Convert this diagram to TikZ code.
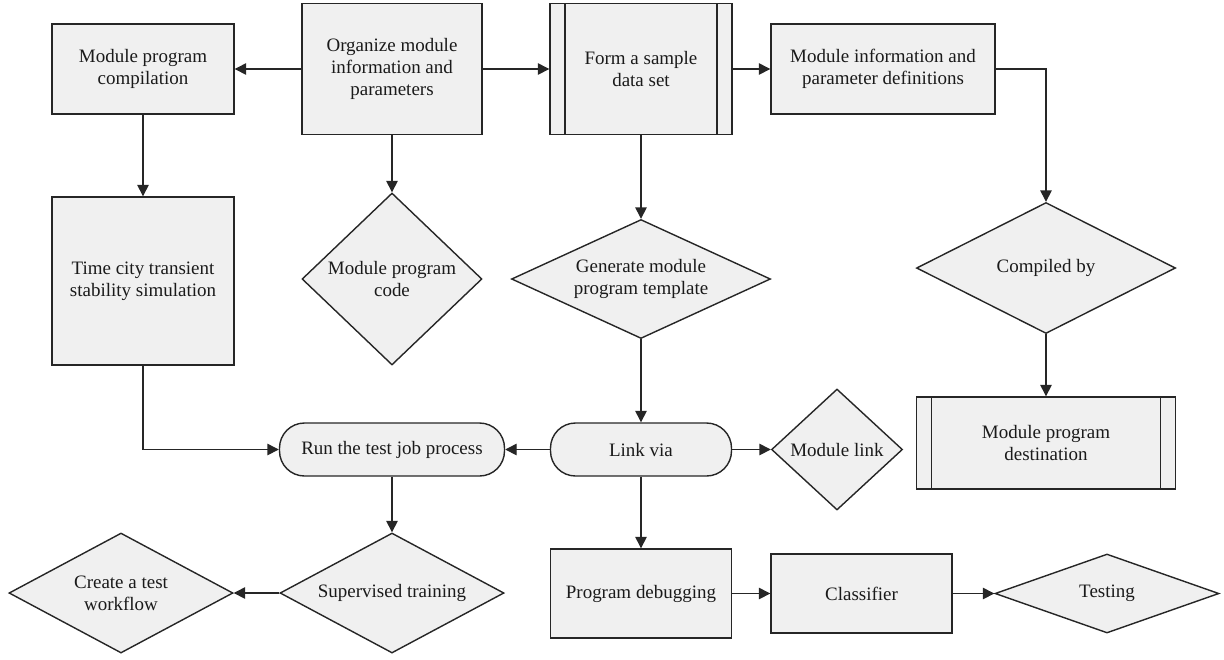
\documentclass[tikz,border=0pt]{standalone}
\usepackage{fontspec}
\setmainfont{Liberation Serif}
\usetikzlibrary{arrows.meta,positioning,shapes.geometric}
\definecolor{cLine}{HTML}{262626}
\definecolor{cText}{HTML}{1A1A1A}
\definecolor{cFill}{HTML}{F0F0F0}
\tikzset{
  base/.style={draw=cLine,fill=cFill,line width=0.8pt,inner sep=0pt,
               align=center,text=cText,font=\fontsize{10.8}{12.6}\selectfont},
  box/.style={base,rectangle},
  subproc/.style={box,path picture={
      \draw[cLine,line width=0.8pt]
        ([xshift=3mm]path picture bounding box.north west) --
        ([xshift=3mm]path picture bounding box.south west)
        ([xshift=-3mm]path picture bounding box.north east) --
        ([xshift=-3mm]path picture bounding box.south east);}},
  term/.style={base,rectangle,rounded corners=5mm,minimum height=1.06cm},
  dec/.style={base,diamond},
  flow/.style={-{Triangle[length=2.3mm,width=2.3mm]},line width=0.8pt,cLine},
}

\begin{document}
\begin{tikzpicture}
  \useasboundingbox (0,0) rectangle (24.48,-13.18);
  \node[box,minimum width=3.64cm,minimum height=1.8cm] (mpc) at (2.86,-1.38)
    {Module program\\compilation};
  \node[box,minimum width=3.6cm,minimum height=2.62cm] (org) at (7.84,-1.38)
    {Organize module\\information and\\parameters};
  \node[subproc,minimum width=3.64cm,minimum height=2.62cm] (form) at (12.82,-1.38)
    {Form a sample\\data set};
  \node[box,minimum width=4.48cm,minimum height=1.8cm] (info) at (17.66,-1.38)
    {Module information and\\parameter definitions};
  \node[box,minimum width=3.64cm,minimum height=3.36cm] (time) at (2.86,-5.62)
    {Time city transient\\stability simulation};
  \node[dec,aspect=1.05,minimum width=3.6cm,minimum height=3.44cm] (code) at (7.84,-5.58)
    {Module program\\code};
  \node[dec,aspect=2.18,minimum width=5.18cm,minimum height=2.38cm] (gen) at (12.82,-5.58)
    {Generate module\\program template};
  \node[dec,aspect=1.98,minimum width=5.18cm,minimum height=2.62cm] (comp) at (20.92,-5.36)
    {Compiled by};
  \node[subproc,minimum width=5.18cm,minimum height=1.84cm] (dest) at (20.92,-8.86)
    {Module program\\destination};
  \node[term,minimum width=4.5cm] (run) at (7.84,-8.99) {Run the test job process};
  \node[term,minimum width=3.62cm] (link) at (12.82,-8.99) {Link via};
  \node[dec,aspect=1.08,minimum width=2.62cm,minimum height=2.42cm] (modlink) at (16.74,-8.99)
    {Module link};
  \node[dec,aspect=1.87,minimum width=4.48cm,minimum height=2.4cm] (create) at (2.42,-11.86)
    {Create a test\\workflow};
  \node[dec,aspect=1.87,minimum width=4.48cm,minimum height=2.4cm] (sup) at (7.84,-11.86)
    {Supervised training};
  \node[box,minimum width=3.62cm,minimum height=1.78cm] (dbg) at (12.82,-11.87)
    {Program debugging};
  \node[box,minimum width=3.62cm,minimum height=1.58cm] (cls) at (17.23,-11.87)
    {Classifier};
  \node[dec,aspect=2.84,minimum width=4.48cm,minimum height=1.58cm] (test) at (22.14,-11.87)
    {Testing};

  \draw[flow] (org.west) -- (mpc.east);
  \draw[flow] (org.east) -- (form.west);
  \draw[flow] (form.east) -- (info.west);
  \draw[flow] (info.east) -| (comp.north);
  \draw[flow] (mpc.south) -- (time.north);
  \draw[flow] (org.south) -- (code.north);
  \draw[flow] (form.south) -- (gen.north);
  \draw[flow] (comp.south) -- (dest.north);
  \draw[flow] (gen.south) -- (link.north);
  \draw[flow] (time.south) |- (run.west);
  \draw[flow] (link.west) -- (run.east);
  \draw[flow] (link.east) -- (modlink.west);
  \draw[flow] (run.south) -- (sup.north);
  \draw[flow] (sup.west) -- (create.east);
  \draw[flow] (link.south) -- (dbg.north);
  \draw[flow] (dbg.east) -- (cls.west);
  \draw[flow] (cls.east) -- (test.west);
\end{tikzpicture}
\end{document}
